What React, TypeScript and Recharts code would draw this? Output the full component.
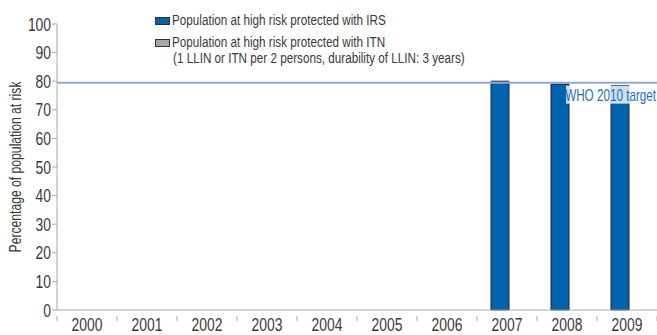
import { BarChart, Bar, XAxis, YAxis, ReferenceLine } from "recharts";

const FONT = "'Liberation Sans', Arial, sans-serif";
const TEXT = "#3a3a3a";
const AXIS_LINE = "#a8a8a8";

const YEARS = ["2000", "2001", "2002", "2003", "2004", "2005", "2006", "2007", "2008", "2009"];
const IRS = [0, 0, 0, 0, 0, 0, 0, 80, 79, 78.5];
const ITN = [0, 0, 0, 0, 0, 0, 0, 0, 0, 0];
const Y_TICKS = [0, 10, 20, 30, 40, 50, 60, 70, 80, 90, 100];
const TARGET = 79.5;
const TARGET_LABEL = "WHO 2010 target";
const Y_TITLE = "Percentage of population at risk";
const LEGEND = [
  { label: ["Population at high risk protected with IRS"], color: "#0063ae" },
  {
    label: [
      "Population at high risk protected with ITN",
      "(1 LLIN or ITN per 2 persons, durability of LLIN: 3 years)",
    ],
    color: "#a6a6a6",
  },
];

const data = YEARS.map((year, i) => ({ year, irs: IRS[i], itn: ITN[i] }));

/* The source uses a condensed face; squeeze Liberation Sans horizontally. */
function Narrow({
  x, y, sx = 0.77, size, fill = TEXT, anchor = "start", rotate = 0, children,
}: {
  x: number; y: number; sx?: number; size: number; fill?: string;
  anchor?: "start" | "middle" | "end"; rotate?: number; children: any;
}) {
  return (
    <g transform={`translate(${x} ${y}) rotate(${rotate}) scale(${sx} 1)`}>
      <text x={0} y={0} textAnchor={anchor} fill={fill} fontSize={size} fontFamily={FONT}>
        {children}
      </text>
    </g>
  );
}

/* Category tick: label centred, small tick mark at the band edges. */
function YearTick(props: any) {
  const { x, y, payload, index } = props;
  const half = payload.offset ?? 30;
  const last = index === YEARS.length - 1;
  return (
    <g>
      <line x1={x - half} x2={x - half} y1={y - 2} y2={y + 3} stroke={AXIS_LINE} />
      {last && <line x1={x + half} x2={x + half} y1={y - 2} y2={y + 3} stroke={AXIS_LINE} />}
      <Narrow x={x} y={331} size={18} anchor="middle">{payload.value}</Narrow>
    </g>
  );
}

function NumTick(props: any) {
  const { x, y, payload } = props;
  return <Narrow x={x + 1} y={y + 6.5} size={18} anchor="end">{payload.value}</Narrow>;
}

function TargetLabel(props: any) {
  const { viewBox } = props;
  const right = viewBox.x + viewBox.width;
  return (
    <g>
      <rect x={right - 91} y={viewBox.y + 3} width={91} height={18} fill="#ffffff" fillOpacity={0.8} />
      <Narrow x={right - 1} y={viewBox.y + 18} size={16} sx={0.73} anchor="end" fill="#1f6fb8">
        {TARGET_LABEL}
      </Narrow>
    </g>
  );
}

function YTitle(props: any) {
  const { viewBox } = props;
  const cy = viewBox.y + viewBox.height / 2;
  return <Narrow x={20.5} y={cy} size={16} sx={0.76} anchor="middle" rotate={-90}>{Y_TITLE}</Narrow>;
}

function LegendBox() {
  const rows = [
    { box: 17.5, lines: [25] },
    { box: 39.5, lines: [47, 63] },
  ];
  return (
    <svg
      width={657} height={80}
      style={{ position: "absolute", left: 0, top: 0, pointerEvents: "none" }}
    >
      {LEGEND.map((item, i) => (
        <g key={i}>
          <rect x={155.5} y={rows[i].box} width={14} height={7} fill={item.color} stroke="#333" />
          {item.label.map((l, j) => (
            <Narrow key={j} x={j ? 173 : 172} y={rows[i].lines[j]} size={15} sx={0.78}>{l}</Narrow>
          ))}
        </g>
      ))}
    </svg>
  );
}

export default function App() {
  return (
    <div style={{ position: "absolute", left: 0, top: 0, width: 657, height: 335, background: "#fff" }}>
      <BarChart
        width={657} height={335} data={data}
        margin={{ top: 24, right: 0, bottom: 0, left: 0 }}
        barSize={18} barGap={-4} barCategoryGap={0}
      >
        <XAxis
          dataKey="year" height={25} tick={<YearTick />} tickLine={false}
          axisLine={{ stroke: AXIS_LINE }} interval={0}
        />
        <YAxis
          domain={[0, 100]} ticks={Y_TICKS} width={57} tickSize={5} interval={0}
          axisLine={{ stroke: AXIS_LINE }} tickLine={{ stroke: AXIS_LINE }}
          tick={<NumTick />}
          label={<YTitle />}
        />
        <Bar dataKey="irs" fill="#0063ae" stroke="#1b2633" strokeWidth={1} isAnimationActive={false} />
        <Bar dataKey="itn" fill="#a6a6a6" stroke="#333" strokeWidth={1} isAnimationActive={false} />
        <ReferenceLine y={TARGET} stroke="#8eaadb" strokeWidth={2} label={<TargetLabel />} />
      </BarChart>
      <LegendBox />
    </div>
  );
}
